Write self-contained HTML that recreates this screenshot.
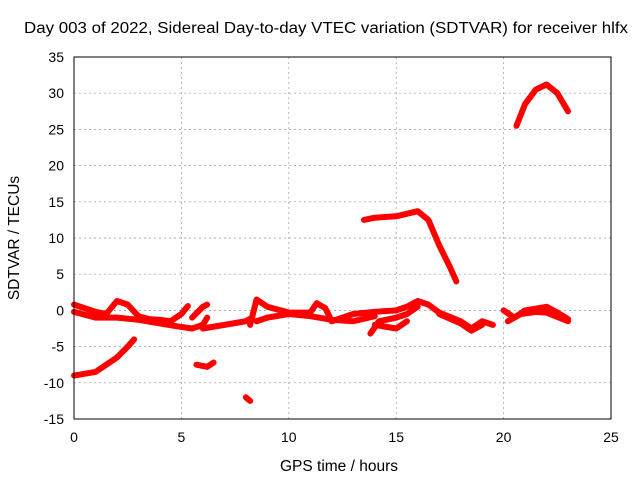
<!DOCTYPE html>
<html><head><meta charset="utf-8"><style>
body{margin:0;background:#fff}
svg{display:block;font-family:"Liberation Sans",sans-serif;font-size:14px}
</style></head><body>
<svg id="c" width="640" height="480">
<text x="24" y="33" textLength="604" lengthAdjust="spacingAndGlyphs" style="font-size:15.5px">Day 003 of 2022, Sidereal Day-to-day VTEC variation (SDTVAR) for receiver hlfx</text>
<text x="339" y="471" text-anchor="middle" style="font-size:15.5px">GPS time / hours</text>
<text transform="translate(19,238) rotate(-90)" text-anchor="middle" style="font-size:15.5px">SDTVAR / TECUs</text>
<g id="grid"></g><g id="series"></g>
<rect x="74" y="57" width="537" height="362" fill="none" stroke="#000"/>
</svg>
<script>
const xTicks=[0,5,10,15,20,25];
const yTicks=[-15,-10,-5,0,5,10,15,20,25,30,35];
const tracks=[
[[0,0.8],[0.5,0.3],[1,-0.2],[1.5,-0.5],[2,1.3],[2.5,0.8],[3,-0.8],[3.5,-1.2],[4,-1.3],[4.5,-1.5],[5,-0.5],[5.3,0.6]],
[[0,-0.2],[1,-1],[2,-1],[3,-1.3],[4,-1.8],[4.8,-2.2],[5.5,-2.5],[6,-2.0],[6.2,-1]],
[[5.5,-1],[6,0.5],[6.2,0.8]],
[[6,-2.5],[7,-2],[8,-1.5],[8.3,-1]],
[[8.2,-2],[8.5,1.5],[9,0.5],[10,-0.3],[11,-0.3],[11.3,1],[11.7,0.3],[12,-1.5],[12.5,-1],[13,-0.5],[14,-0.2],[15,0],[15.5,0.5],[16,1.3],[16.5,0.8],[17,-0.3],[18,-1.5],[18.5,-2.5],[19,-1.5],[19.5,-2]],
[[8.5,-1.5],[9,-1],[10,-0.5],[11,-0.8],[12,-1.3],[13,-1.5],[14,-0.8]],
[[13.8,-3.2],[14.2,-1.5],[15,-1],[15.5,-0.5],[16,0.5]],
[[14,-2],[15,-2.5],[15.5,-1.5]],
[[17,-0.5],[18,-1.8],[18.5,-2.8],[19,-2]],
[[20,0],[20.5,-1],[21,0],[22,0.5],[22.5,-0.3],[23,-1.2]],
[[20.2,-1.5],[20.8,-0.5],[21.5,-0.2],[22,-0.3],[23,-1.5]],
[[0,-9],[1,-8.5],[1.5,-7.5],[2,-6.5],[2.5,-5],[2.8,-4]],
[[5.7,-7.5],[6.2,-7.8],[6.5,-7.2]],
[[8,-12],[8.2,-12.5]],
[[13.5,12.5],[14,12.8],[15,13],[16,13.7],[16.5,12.5],[17,9],[17.5,6],[17.8,4]],
[[20.6,25.5],[21,28.5],[21.5,30.5],[22,31.2],[22.5,30],[23,27.5]]
];
const X=v=>74+v*537/25, Y=v=>419-(v+15)*362/50;
const NS='http://www.w3.org/2000/svg';
const g=document.getElementById('grid'), s=document.getElementById('series');
function mk(t,a,p){const e=document.createElementNS(NS,t);for(const k in a)e.setAttribute(k,a[k]);p.appendChild(e);return e;}
xTicks.forEach(v=>{
 const l=mk('line',{x1:X(v),x2:X(v),y1:57,y2:419,stroke:'#999','stroke-dasharray':'2,3','stroke-width':0.7},g);
 
 
 const t=mk('text',{x:X(v),y:442,'text-anchor':'middle'},g);t.textContent=v;
 
 
});
yTicks.forEach(v=>{
 const l=mk('line',{x1:74,x2:611,y1:Y(v),y2:Y(v),stroke:'#999','stroke-dasharray':'2,3','stroke-width':0.7},g);
 
 
 const t=mk('text',{x:64,y:Y(v)+5,'text-anchor':'end'},g);t.textContent=v;
 
 
});
tracks.forEach(tr=>{
 const p=mk('polyline',{points:tr.map(d=>X(d[0])+','+Y(d[1])).join(' '),fill:'none',stroke:'#f00','stroke-width':6,'stroke-linejoin':'round','stroke-linecap':'round'},s);
 
 
});
</script>
</body></html>
